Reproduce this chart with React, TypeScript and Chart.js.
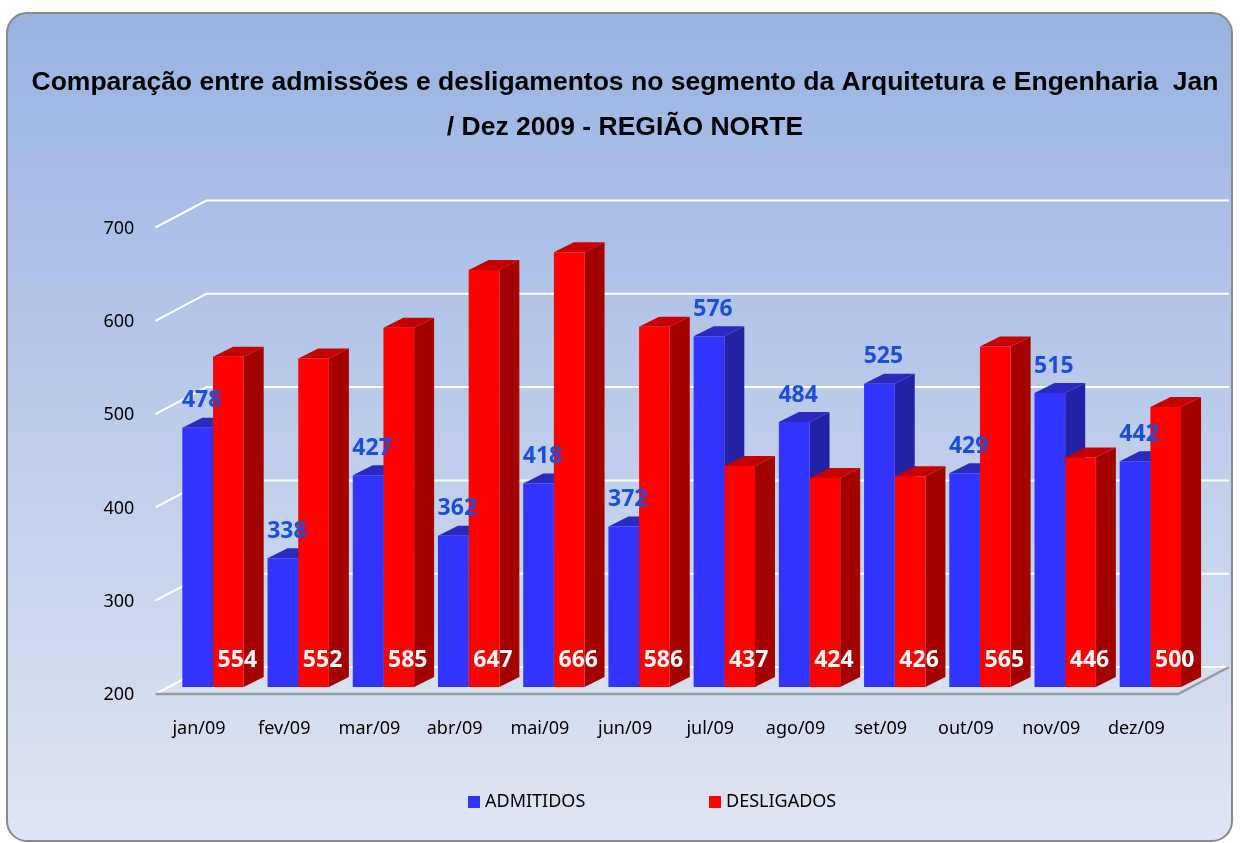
import React, { useEffect, useRef } from 'react';
import { Chart, registerables } from 'chart.js';

Chart.register(...registerables);

// ---------- data ----------
const TITLE_LINES = [
  'Comparação entre admissões e desligamentos no segmento da Arquitetura e Engenharia  Jan',
  '/ Dez 2009 - REGIÃO NORTE',
];
const CATEGORIES = ['jan/09', 'fev/09', 'mar/09', 'abr/09', 'mai/09', 'jun/09', 'jul/09', 'ago/09', 'set/09', 'out/09', 'nov/09', 'dez/09'];
const SERIES_LABELS = ['ADMITIDOS', 'DESLIGADOS'];
const ADMITIDOS = [478, 338, 427, 362, 418, 372, 576, 484, 525, 429, 515, 442];
const DESLIGADOS = [554, 552, 585, 647, 666, 586, 437, 424, 426, 565, 446, 500];
const Y_MIN = 200;
const Y_MAX = 700;
const Y_STEP = 100;

// ---------- styles / layout ----------
const COLORS = {
  blue: { front: '#3333FF', side: '#2222A6', top: '#2A2AC0', label: '#1F4ED6' },
  red: { front: '#FF0000', side: '#A30000', top: '#C40000', label: '#FFFFFF' },
  bgTop: '#99B3E2',
  bgBottom: '#DFE5F3',
  frame: '#8A8A8A',
  grid: '#FFFFFF',
  floorEdge: '#9A9A9A',
  text: '#000000',
};
const FONT = '"Noto Sans", "DejaVu Sans", sans-serif';
const TITLE_FONT = 'bold 26.5px "Liberation Sans", Arial, sans-serif';
const LAYOUT = {
  frame: { x: 7, y: 13, w: 1225, h: 828, r: 20 },
  titleX: 625,
  titleY: [90, 135],
  depthX: 20,
  depthY: 10,
  floorFront: 7, // floor front edge below bar base
  wallBack: 20, // back wall line above bar base
  wallLeft: -15, // front edge x offset from chart left
  wallDX: 51,
  blueLabelDX: 4,
  blueLabelDY: 27,
  redLabelDX: 9,
  redLabelDY: 27,
  legend: { y: 802, box: 12, items: [468, 709], textGap: 5 },
};

const threeD = {
  id: 'threeD',
  beforeDraw(chart: any) {
    const { ctx, chartArea: ca, scales } = chart;
    const y = scales.y;
    ctx.save();
    ctx.fillStyle = '#FFFFFF';
    ctx.fillRect(0, 0, chart.width, chart.height);
    const f = LAYOUT.frame;
    const g = ctx.createLinearGradient(0, f.y, 0, f.y + f.h);
    g.addColorStop(0, COLORS.bgTop);
    g.addColorStop(1, COLORS.bgBottom);
    ctx.beginPath();
    ctx.roundRect(f.x, f.y, f.w, f.h, f.r);
    ctx.fillStyle = g;
    ctx.fill();
    ctx.lineWidth = 2;
    ctx.strokeStyle = COLORS.frame;
    ctx.stroke();

    const xf = ca.left + LAYOUT.wallLeft;
    const xb = xf + LAYOUT.wallDX;
    const xrEnd = ca.right + LAYOUT.wallLeft + LAYOUT.wallDX;
    const y0 = y.getPixelForValue(Y_MIN);

    // floor
    ctx.beginPath();
    ctx.moveTo(xf, y0 + LAYOUT.floorFront);
    ctx.lineTo(xb, y0 - LAYOUT.wallBack);
    ctx.lineTo(xrEnd, y0 - LAYOUT.wallBack);
    ctx.lineTo(ca.right + LAYOUT.wallLeft, y0 + LAYOUT.floorFront);
    ctx.closePath();
    ctx.fillStyle = 'rgba(255,255,255,0.12)';
    ctx.fill();

    // grid lines (back wall + left wall diagonals)
    ctx.strokeStyle = COLORS.grid;
    ctx.lineWidth = 2;
    for (let v = Y_MIN; v <= Y_MAX; v += Y_STEP) {
      const p = y.getPixelForValue(v);
      ctx.beginPath();
      ctx.moveTo(xf, p + LAYOUT.floorFront);
      ctx.lineTo(xb, p - LAYOUT.wallBack);
      ctx.lineTo(xrEnd, p - LAYOUT.wallBack);
      ctx.stroke();
    }

    // floor front & right edge
    ctx.strokeStyle = COLORS.floorEdge;
    ctx.lineWidth = 2.5;
    ctx.beginPath();
    ctx.moveTo(xf, y0 + LAYOUT.floorFront);
    ctx.lineTo(ca.right + LAYOUT.wallLeft, y0 + LAYOUT.floorFront);
    ctx.lineTo(xrEnd, y0 - LAYOUT.wallBack);
    ctx.stroke();
    ctx.restore();
  },
  beforeDatasetsDraw(chart: any) {
    const { ctx } = chart;
    const dx = LAYOUT.depthX;
    const dy = LAYOUT.depthY;
    const palettes = [COLORS.blue, COLORS.red];
    ctx.save();
    chart.data.datasets.forEach((_: any, di: number) => {
      const meta = chart.getDatasetMeta(di);
      const pal = palettes[di];
      meta.data.forEach((bar: any) => {
        const { x, y, base, width } = bar.getProps(['x', 'y', 'base', 'width'], true);
        const l = x - width / 2;
        const r = x + width / 2;
        // side
        ctx.beginPath();
        ctx.moveTo(r, y);
        ctx.lineTo(r + dx, y - dy);
        ctx.lineTo(r + dx, base - dy);
        ctx.lineTo(r, base);
        ctx.closePath();
        ctx.fillStyle = pal.side;
        ctx.fill();
        // top
        ctx.beginPath();
        ctx.moveTo(l, y);
        ctx.lineTo(l + dx, y - dy);
        ctx.lineTo(r + dx, y - dy);
        ctx.lineTo(r, y);
        ctx.closePath();
        ctx.fillStyle = pal.top;
        ctx.fill();
      });
    });
    ctx.restore();
  },
  afterDatasetsDraw(chart: any) {
    const { ctx } = chart;
    ctx.save();
    ctx.font = `bold 23px ${FONT}`;
    ctx.textAlign = 'center';
    ctx.textBaseline = 'middle';
    const blue = chart.getDatasetMeta(0);
    blue.data.forEach((bar: any, i: number) => {
      ctx.fillStyle = COLORS.blue.label;
      ctx.fillText(String(chart.data.datasets[0].data[i]), bar.x + LAYOUT.blueLabelDX, bar.y - LAYOUT.blueLabelDY);
    });
    const red = chart.getDatasetMeta(1);
    red.data.forEach((bar: any, i: number) => {
      ctx.fillStyle = COLORS.red.label;
      ctx.fillText(String(chart.data.datasets[1].data[i]), bar.x + LAYOUT.redLabelDX, bar.base - LAYOUT.redLabelDY);
    });
    ctx.restore();
  },
  afterDraw(chart: any) {
    const { ctx } = chart;
    ctx.save();
    // title
    ctx.font = TITLE_FONT;
    ctx.fillStyle = COLORS.text;
    ctx.textAlign = 'center';
    ctx.textBaseline = 'alphabetic';
    TITLE_LINES.forEach((line, i) => ctx.fillText(line, LAYOUT.titleX, LAYOUT.titleY[i]));
    // legend
    const lg = LAYOUT.legend;
    ctx.font = `18px ${FONT}`;
    ctx.textAlign = 'left';
    ctx.textBaseline = 'middle';
    const fills = [COLORS.blue.front, COLORS.red.front];
    chart.data.datasets.forEach((ds: any, i: number) => {
      const x = lg.items[i];
      ctx.fillStyle = fills[i];
      ctx.fillRect(x, lg.y - lg.box / 2, lg.box, lg.box);
      ctx.fillStyle = COLORS.text;
      ctx.fillText(ds.label, x + lg.box + lg.textGap, lg.y);
    });
    ctx.restore();
  },
};

export default function App() {
  const ref = useRef<HTMLCanvasElement>(null);
  useEffect(() => {
    const canvas = ref.current;
    if (!canvas) return;
    const chart = new Chart(canvas, {
      type: 'bar',
      data: {
        labels: CATEGORIES,
        datasets: [
          { label: SERIES_LABELS[0], data: ADMITIDOS, base: Y_MIN, backgroundColor: COLORS.blue.front, borderWidth: 0, barPercentage: 1, categoryPercentage: 0.72 },
          { label: SERIES_LABELS[1], data: DESLIGADOS, base: Y_MIN, backgroundColor: COLORS.red.front, borderWidth: 0, barPercentage: 1, categoryPercentage: 0.72 },
        ],
      },
      options: {
        responsive: false,
        animation: false,
        devicePixelRatio: 1,
        layout: { padding: { left: 57, right: 47, top: 220.5, bottom: 96 } },
        plugins: {
          legend: { display: false },
          title: { display: false },
          tooltip: { enabled: false },
        },
        scales: {
          x: {
            grid: { display: false, drawTicks: false },
            border: { display: false },
            ticks: { font: { family: FONT, size: 18 }, color: COLORS.text, padding: 31, labelOffset: -14, maxRotation: 0, autoSkip: false },
            afterFit: (s: any) => { s.height = 60; },
          },
          y: {
            min: Y_MIN,
            max: Y_MAX,
            grid: { display: false, drawTicks: false },
            border: { display: false },
            ticks: { stepSize: Y_STEP, font: { family: FONT, size: 18 }, color: COLORS.text, padding: 36, labelOffset: 8 },
            afterFit: (s: any) => { s.width = 113.4; },
          },
        },
      },
      plugins: [threeD],
    } as any);
    return () => chart.destroy();
  }, []);
  return (
    <div style={{ position: 'absolute', left: 0, top: 0, width: 1240, height: 843 }}>
      <canvas ref={ref} width={1240} height={843} style={{ display: 'block', width: 1240, height: 843 }} />
    </div>
  );
}
